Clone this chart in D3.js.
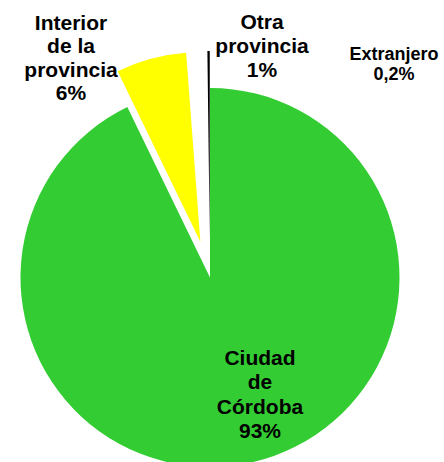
<!DOCTYPE html>
<html>
<head>
<meta charset="utf-8">
<script src="https://cdn.jsdelivr.net/npm/d3@7"></script>
<style>
  html, body { margin: 0; padding: 0; background: #ffffff; }
  svg { display: block; }
  text { font-family: "Liberation Sans", Arial, sans-serif; font-weight: bold; fill: #000; }
</style>
</head>
<body>
<svg id="chart" width="444" height="462"></svg>
<script>
// Origen de los alumnos
const categories = ["Ciudad de Córdoba", "Interior de la provincia", "Otra provincia", "Extranjero"];
const values = [93, 6, 1, 0.2];
const valueLabels = ["93%", "6%", "1%", "0,2%"];
const labelLines = [
  ["Ciudad", "de", "Córdoba"],
  ["Interior", "de la", "provincia"],
  ["Otra", "provincia"],
  ["Extranjero"]
];

// Presentation
const colors = ["#33CC33", "#FFFF00", "#FFFFFF", "#000000"];
const explode = [0, 37, 37, 37];
const labelLayout = [
  { x: 260, y: 365, lh: 24.4, size: 21 },
  { x: 71, y: 29.5, lh: 23.6, size: 21 },
  { x: 262, y: 29.3, lh: 23.8, size: 21 },
  { x: 394, y: 60, lh: 20, size: 18 }
];

const svg = d3.select("#chart");
const cx = 210, cy = 277.5, radius = 189.5;

const pie = d3.pie().sort(null).value(d => d)(values);
const arc = d3.arc().innerRadius(0).outerRadius(radius);

const g = svg.append("g").attr("transform", `translate(${cx},${cy})`);

g.selectAll("path.slice")
  .data(pie)
  .join("path")
  .attr("class", "slice")
  .attr("fill", (d, i) => colors[i])
  .attr("transform", (d, i) => {
    const a = (d.startAngle + d.endAngle) / 2;
    return `translate(${Math.sin(a) * explode[i]},${-Math.cos(a) * explode[i]})`;
  })
  .attr("d", arc);

// Data labels: category name lines followed by the percentage
labelLayout.forEach((L, i) => {
  const lines = labelLines[i].concat([valueLabels[i]]);
  const t = svg.append("text")
    .attr("text-anchor", "middle")
    .attr("font-size", L.size);
  lines.forEach((s, k) => {
    t.append("tspan").attr("x", L.x).attr("y", L.y + k * L.lh).text(s);
  });
});
</script>
</body>
</html>
